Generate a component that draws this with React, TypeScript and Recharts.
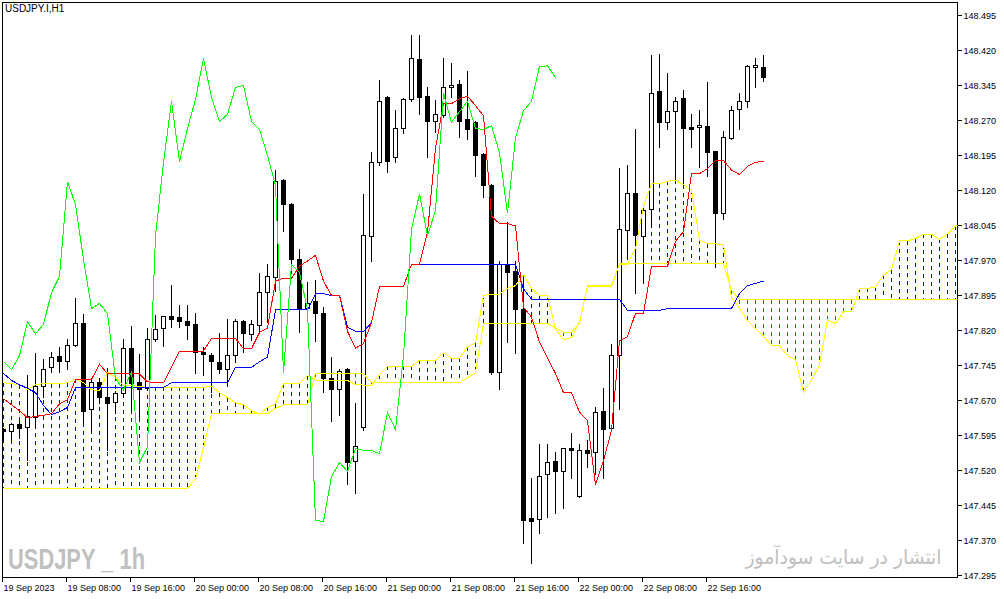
import React from 'react';
import { ComposedChart, Bar, Line, XAxis, YAxis, ReferenceArea } from 'recharts';

// ---- data (hourly bars, index 0 = 19 Sep 2023 00:00) ----
const openP = [
  147.608, 147.603, 147.618, 147.612, 147.633, 147.700, 147.741, 147.764, 147.753, 147.788,
  147.835, 147.651, 147.708, 147.676, 147.666, 147.685, 147.781, 147.708, 147.696, 147.801,
  147.824, 147.850, 147.848, 147.839, 147.833, 147.773, 147.766, 147.751, 147.736, 147.766,
  147.839, 147.811, 147.831, 147.901, 147.933, 148.141, 148.090, 147.972, 147.867, 147.882,
  147.856, 147.717, 147.693, 147.736, 147.539, 147.612, 148.021, 148.180, 148.319, 148.191,
  148.253, 148.315, 148.401, 148.321, 148.268, 148.281, 148.341, 148.347, 148.272, 148.266,
  148.197, 148.131, 147.730, 147.959, 147.946, 147.865, 147.417, 147.415, 147.511, 147.539,
  147.518, 147.567, 147.464, 147.563, 147.558, 147.646, 147.610, 147.766, 148.034, 148.113,
  148.021, 148.079, 148.332, 148.266, 148.289, 148.317, 148.255, 148.255, 148.257, 148.203,
  148.071, 148.231, 148.293, 148.311, 148.383, 148.383,
];
const highP = [
  147.612, 147.623, 147.627, 147.726, 147.773, 147.760, 147.775, 147.786, 147.803, 147.891,
  147.856, 147.719, 147.719, 147.741, 147.691, 147.803, 147.831, 147.771, 147.826, 147.854,
  147.852, 147.918, 147.876, 147.876, 147.858, 147.786, 147.773, 147.816, 147.846, 147.846,
  147.843, 147.843, 147.944, 147.963, 148.165, 148.146, 148.094, 147.996, 147.925, 147.929,
  147.871, 147.764, 147.738, 147.741, 147.666, 148.113, 148.203, 148.358, 148.323, 148.293,
  148.319, 148.454, 148.454, 148.343, 148.315, 148.405, 148.394, 148.358, 148.377, 148.270,
  148.201, 148.135, 147.970, 148.053, 147.970, 147.933, 147.505, 147.578, 147.578, 147.561,
  147.569, 147.601, 147.578, 147.586, 147.657, 147.698, 147.792, 148.169, 148.176, 148.253,
  148.081, 148.411, 148.413, 148.373, 148.321, 148.336, 148.285, 148.293, 148.353, 148.206,
  148.248, 148.302, 148.330, 148.390, 148.405, 148.411,
];
const lowP = [
  147.584, 147.584, 147.588, 147.541, 147.612, 147.676, 147.730, 147.730, 147.736, 147.786,
  147.621, 147.606, 147.663, 147.563, 147.642, 147.678, 147.648, 147.633, 147.691, 147.796,
  147.786, 147.826, 147.826, 147.801, 147.728, 147.723, 147.687, 147.728, 147.700, 147.751,
  147.773, 147.798, 147.813, 147.837, 147.903, 148.032, 147.942, 147.816, 147.863, 147.796,
  147.687, 147.625, 147.638, 147.490, 147.471, 147.606, 147.968, 148.173, 148.158, 148.180,
  148.242, 148.311, 148.283, 148.191, 148.244, 148.276, 148.319, 148.233, 148.229, 148.150,
  148.105, 147.726, 147.693, 147.794, 147.771, 147.363, 147.321, 147.385, 147.419, 147.428,
  147.438, 147.503, 147.462, 147.526, 147.511, 147.503, 147.608, 147.651, 147.972, 147.899,
  147.921, 148.041, 148.212, 148.251, 148.141, 148.131, 148.212, 148.169, 148.150, 147.955,
  148.058, 148.229, 148.251, 148.298, 148.341, 148.353,
];
const closeP = [
  147.603, 147.618, 147.610, 147.636, 147.700, 147.736, 147.762, 147.753, 147.788, 147.835,
  147.646, 147.708, 147.676, 147.663, 147.685, 147.781, 147.706, 147.693, 147.801, 147.822,
  147.850, 147.843, 147.839, 147.831, 147.773, 147.768, 147.753, 147.736, 147.766, 147.839,
  147.813, 147.833, 147.901, 147.936, 148.139, 148.090, 147.972, 147.867, 147.878, 147.856,
  147.717, 147.693, 147.732, 147.537, 147.571, 148.023, 148.180, 148.311, 148.182, 148.253,
  148.315, 148.403, 148.319, 148.268, 148.283, 148.341, 148.345, 148.268, 148.251, 148.195,
  148.131, 147.730, 147.961, 147.944, 147.865, 147.413, 147.411, 147.507, 147.537, 147.518,
  147.567, 147.563, 147.563, 147.556, 147.644, 147.608, 147.766, 148.036, 148.113, 148.023,
  148.077, 148.328, 148.266, 148.289, 148.311, 148.253, 148.251, 148.259, 148.201, 148.071,
  148.233, 148.291, 148.311, 148.386, 148.387, 148.362,
];

// Tenkan-sen (red)
const tenkan = [
  147.674, 147.661, 147.648, 147.633, 147.636, 147.638, 147.642, 147.663, 147.672, 147.715,
  147.715, 147.715, 147.748, 147.727, 147.727, 147.727, 147.727, 147.727, 147.710, 147.708,
  147.708, 147.741, 147.776, 147.776, 147.776, 147.776, 147.803, 147.803, 147.803, 147.803,
  147.781, 147.781, 147.816, 147.825, 147.926, 147.932, 147.932, 147.958, 147.969, 147.981,
  147.926, 147.895, 147.895, 147.818, 147.782, 147.792, 147.837, 147.914, 147.914, 147.914,
  147.914, 147.962, 147.962, 148.030, 148.211, 148.306, 148.306, 148.317, 148.322, 148.302,
  148.280, 148.065, 148.049, 148.049, 148.044, 147.870, 147.849, 147.795, 147.761, 147.728,
  147.687, 147.687, 147.645, 147.627, 147.489, 147.541, 147.606, 147.798, 147.807, 147.857,
  147.857, 147.957, 147.958, 147.958, 148.011, 148.032, 148.156, 148.156, 148.167, 148.184,
  148.184, 148.164, 148.154, 148.172, 148.180, 148.183,
];
// Kijun-sen (blue)
const kijun = [
  147.728, 147.713, 147.704, 147.696, 147.687, 147.659, 147.640, 147.646, 147.655, 147.698,
  147.698, 147.698, 147.698, 147.698, 147.698, 147.698, 147.698, 147.698, 147.698, 147.698,
  147.698, 147.708, 147.708, 147.708, 147.708, 147.708, 147.708, 147.708, 147.708, 147.741,
  147.741, 147.741, 147.753, 147.763, 147.864, 147.864, 147.864, 147.864, 147.864, 147.899,
  147.899, 147.895, 147.895, 147.827, 147.818, 147.818, 147.837, 147.914, 147.914, 147.914,
  147.914, 147.962, 147.962, 147.962, 147.962, 147.962, 147.962, 147.962, 147.962, 147.962,
  147.962, 147.962, 147.962, 147.962, 147.962, 147.909, 147.887, 147.887, 147.887, 147.887,
  147.887, 147.887, 147.887, 147.887, 147.887, 147.887, 147.887, 147.887, 147.863, 147.863,
  147.863, 147.863, 147.863, 147.867, 147.867, 147.867, 147.867, 147.867, 147.867, 147.867,
  147.867, 147.867, 147.899, 147.916, 147.921, 147.926,
];
// Chikou span (lime), 26 bars back
const chikou = [
  147.753, 147.736, 147.766, 147.839, 147.813, 147.833, 147.901, 147.936, 148.139, 148.090,
  147.972, 147.867, 147.878, 147.856, 147.717, 147.693, 147.732, 147.537, 147.571, 148.023,
  148.180, 148.311, 148.182, 148.253, 148.315, 148.403, 148.319, 148.268, 148.283, 148.341,
  148.345, 148.268, 148.251, 148.195, 148.131, 147.730, 147.961, 147.944, 147.865, 147.413,
  147.411, 147.507, 147.537, 147.518, 147.567, 147.563, 147.563, 147.556, 147.644, 147.608,
  147.766, 148.036, 148.113, 148.023, 148.077, 148.328, 148.266, 148.289, 148.311, 148.253,
  148.251, 148.259, 148.201, 148.071, 148.233, 148.291, 148.311, 148.386, 148.387, 148.362,
];
// Senkou span A (yellow), 26 bars ahead
const spanA = [
  147.708, 147.706, 147.704, 147.693, 147.704, 147.706, 147.706, 147.706, 147.708, 147.715,
  147.708, 147.693, 147.691, 147.730, 147.721, 147.702, 147.702, 147.700, 147.698, 147.698,
  147.698, 147.698, 147.698, 147.698, 147.698, 147.698, 147.701, 147.687, 147.676, 147.665,
  147.661, 147.648, 147.641, 147.655, 147.663, 147.706, 147.706, 147.706, 147.723, 147.713,
  147.713, 147.713, 147.713, 147.713, 147.704, 147.703, 147.703, 147.725, 147.743, 147.743,
  147.743, 147.743, 147.756, 147.756, 147.756, 147.772, 147.761, 147.761, 147.785, 147.794,
  147.895, 147.898, 147.898, 147.911, 147.916, 147.940, 147.910, 147.895, 147.895, 147.823,
  147.800, 147.805, 147.837, 147.914, 147.914, 147.914, 147.914, 147.962, 147.962, 147.996,
  148.087, 148.134, 148.134, 148.140, 148.142, 148.132, 148.121, 148.014, 148.006, 148.006,
  148.003, 147.890, 147.868, 147.841, 147.824, 147.808, 147.787, 147.787, 147.766, 147.757,
  147.688, 147.714, 147.746, 147.843, 147.835, 147.860, 147.860, 147.910, 147.910, 147.913,
  147.939, 147.950, 148.012, 148.012, 148.017, 148.026, 148.026, 148.015, 148.027, 148.044,
  148.050, 148.055,
];
// Senkou span B (yellow), 26 bars ahead
const spanB = [
  147.482, 147.482, 147.482, 147.482, 147.482, 147.482, 147.482, 147.482, 147.482, 147.482,
  147.482, 147.482, 147.482, 147.482, 147.482, 147.482, 147.482, 147.482, 147.482, 147.482,
  147.482, 147.482, 147.482, 147.482, 147.501, 147.569, 147.642, 147.642, 147.642, 147.642,
  147.642, 147.642, 147.642, 147.642, 147.653, 147.661, 147.661, 147.661, 147.661, 147.728,
  147.728, 147.728, 147.728, 147.728, 147.728, 147.728, 147.708, 147.708, 147.708, 147.708,
  147.708, 147.708, 147.708, 147.708, 147.708, 147.708, 147.708, 147.708, 147.719, 147.730,
  147.835, 147.835, 147.835, 147.835, 147.835, 147.835, 147.835, 147.835, 147.835, 147.826,
  147.816, 147.816, 147.835, 147.916, 147.916, 147.916, 147.916, 147.963, 147.963, 147.963,
  147.963, 147.963, 147.963, 147.963, 147.963, 147.963, 147.963, 147.963, 147.963, 147.963,
  147.963, 147.906, 147.886, 147.886, 147.886, 147.886, 147.886, 147.886, 147.886, 147.886,
  147.886, 147.886, 147.886, 147.886, 147.886, 147.886, 147.886, 147.886, 147.886, 147.886,
  147.886, 147.886, 147.886, 147.886, 147.886, 147.886, 147.886, 147.886, 147.886, 147.886,
  147.886, 147.886,
];

const timeTicks = [0, 8, 16, 24, 32, 40, 48, 56, 64, 72, 80, 88];
const timeLabels = [
  '19 Sep 2023', '19 Sep 08:00', '19 Sep 16:00', '20 Sep 00:00', '20 Sep 08:00', '20 Sep 16:00',
  '21 Sep 00:00', '21 Sep 08:00', '21 Sep 16:00', '22 Sep 00:00', '22 Sep 08:00', '22 Sep 16:00',
];
const priceTicks = [
  148.495, 148.420, 148.345, 148.270, 148.195, 148.120, 148.045, 147.970, 147.895,
  147.820, 147.745, 147.670, 147.595, 147.520, 147.445, 147.370, 147.295,
];

// ---- layout ----
const W = 1004;
const H = 599;
const X0 = -0.125;
const X1 = 119.25;
const Y0 = 147.29071;
const Y1 = 148.52286;
const FONT = '"Liberation Sans", Arial, sans-serif';

const N = spanA.length;
const data = Array.from({ length: N }, (_, i) => {
  const vals = [highP[i], lowP[i], spanA[i], spanB[i]].filter((v) => v !== undefined);
  return {
    i,
    open: openP[i],
    high: highP[i],
    low: lowP[i],
    close: closeP[i],
    tenkan: tenkan[i] ?? null,
    kijun: kijun[i] ?? null,
    chikou: chikou[i] ?? null,
    spanA: spanA[i] ?? null,
    spanB: spanB[i] ?? null,
    range: [Math.min(...vals), Math.max(...vals)],
  };
});

const snap = (v: number) => Math.round(v - 0.5) + 0.5;

const CandleShape = (props: any) => {
  const { x, y, width, height, payload } = props;
  if (!payload || !isFinite(x) || !isFinite(y)) return null;
  const [lo, hi] = payload.range;
  const top = Math.min(y, y + height);
  const h = Math.abs(height);
  if (!(hi > lo) || !(h > 0)) return null;
  const ppu = h / (hi - lo);
  const py = (p: number) => top + (hi - p) * ppu;
  const cx = snap(x + width / 2);
  const parts: React.ReactNode[] = [];
  const a = payload.spanA;
  const b = payload.spanB;
  if (a != null && b != null && a !== b) {
    parts.push(
      <line
        key="k"
        x1={cx}
        x2={cx}
        y1={py(Math.max(a, b))}
        y2={py(Math.min(a, b))}
        stroke={a > b ? '#0000ff' : '#ff0000'}
        strokeWidth={1}
        strokeDasharray="4 4"
        shapeRendering="crispEdges"
      />
    );
  }
  if (payload.open != null) {
    const o = payload.open;
    const c = payload.close;
    const bull = c >= o;
    const yH = snap(py(payload.high));
    const yL = snap(py(payload.low));
    const bt = snap(py(Math.max(o, c)));
    const bb = snap(py(Math.min(o, c)));
    parts.push(
      <line key="w" x1={cx} x2={cx} y1={yH} y2={yL} stroke="#000" strokeWidth={1} shapeRendering="crispEdges" />
    );
    parts.push(
      <rect
        key="b"
        x={cx - 2}
        y={bt}
        width={4}
        height={Math.max(bb - bt, 1)}
        fill={bull ? '#fff' : '#000'}
        stroke="#000"
        strokeWidth={1}
        shapeRendering="crispEdges"
      />
    );
  }
  return <g>{parts}</g>;
};

const TimeTick = (props: any) => {
  const { x, y, payload } = props;
  const idx = timeTicks.indexOf(payload.value);
  return (
    <g>
      <line x1={x - 1} x2={x - 1} y1={y + 0.5} y2={y + 4.5} stroke="#000" shapeRendering="crispEdges" />
      <text x={x} y={y + 13.5} fontSize={9} fontFamily={FONT} fill="#000" textAnchor="start">
        {idx >= 0 ? timeLabels[idx] : ''}
      </text>
    </g>
  );
};

export default function App() {
  return (
    <div style={{ position: 'absolute', left: 0, top: 0, width: W, height: H, background: '#fff', overflow: 'hidden' }}>
      <ComposedChart width={W} height={H} data={data} margin={{ top: 2.5, right: 0.5, bottom: 0.5, left: 2.5 }}>
        <XAxis
          dataKey="i"
          type="number"
          domain={[X0, X1]}
          allowDataOverflow
          ticks={timeTicks}
          interval={0}
          height={21}
          axisLine={false}
          tickLine={false}
          tickSize={0}
          tickMargin={0}
          tick={<TimeTick />}
        />
        <YAxis
          orientation="right"
          type="number"
          domain={[Y0, Y1]}
          allowDataOverflow
          ticks={priceTicks}
          interval={0}
          width={46}
          axisLine={false}
          tickLine={{ stroke: '#000', shapeRendering: 'crispEdges' }}
          tickSize={4}
          tickMargin={2}
          tick={{ fontSize: 9, fill: '#000', fontFamily: FONT }}
          tickFormatter={(v: number) => v.toFixed(3)}
        />
        <ReferenceArea
          x1={X0}
          x2={X1}
          y1={Y0}
          y2={Y1}
          fill="none"
          fillOpacity={0}
          stroke="#000"
          strokeWidth={1}
          strokeOpacity={1}
          ifOverflow="visible"
          shapeRendering="crispEdges"
        />
        <Bar dataKey="range" barSize={6} shape={<CandleShape />} isAnimationActive={false} />
        <Line dataKey="spanA" type="linear" stroke="#ffff00" strokeWidth={1} dot={false} activeDot={false} isAnimationActive={false} shapeRendering="crispEdges" />
        <Line dataKey="spanB" type="linear" stroke="#ffff00" strokeWidth={1} dot={false} activeDot={false} isAnimationActive={false} shapeRendering="crispEdges" />
        <Line dataKey="kijun" type="linear" stroke="#0000ff" strokeWidth={1} dot={false} activeDot={false} isAnimationActive={false} shapeRendering="crispEdges" />
        <Line dataKey="tenkan" type="linear" stroke="#ff0000" strokeWidth={1} dot={false} activeDot={false} isAnimationActive={false} shapeRendering="crispEdges" />
        <Line dataKey="chikou" type="linear" stroke="#00ff00" strokeWidth={1} dot={false} activeDot={false} isAnimationActive={false} shapeRendering="crispEdges" />
      </ComposedChart>
      <svg width={W} height={H} style={{ position: 'absolute', left: 0, top: 0, pointerEvents: 'none' }}>
        <text x={5} y={11.5} fontSize={10} fontFamily={FONT} fill="#000">USDJPY.I,H1</text>
        <text
          x={8}
          y={568.5}
          fontSize={29}
          fontWeight="bold"
          fontFamily={FONT}
          fill="#c0c0c0"
          textLength={137}
          lengthAdjust="spacingAndGlyphs"
        >
          USDJPY _ 1h
        </text>
        <text
          x={843.5}
          y={564}
          fontSize={20}
          fontFamily='"DejaVu Sans", sans-serif'
          fill="#c0c0c0"
          textAnchor="middle"
          textLength={196}
          lengthAdjust="spacingAndGlyphs"
        >
          انتشار در سایت سودآموز
        </text>
      </svg>
    </div>
  );
}
